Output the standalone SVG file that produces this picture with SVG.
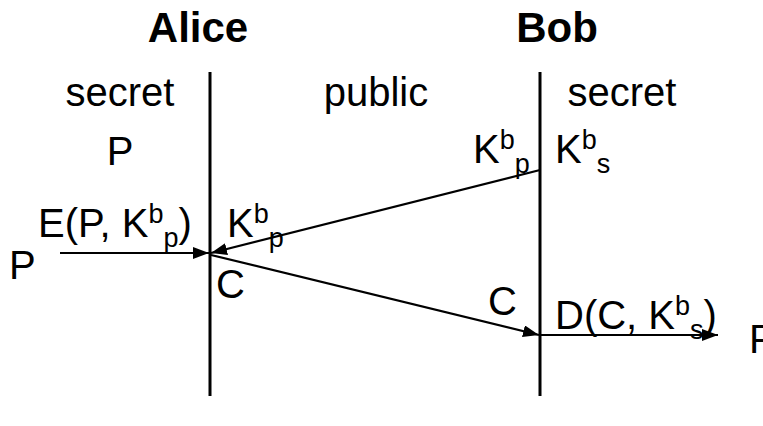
<svg xmlns="http://www.w3.org/2000/svg" width="763" height="426" viewBox="0 0 763 426">
  <style>
    text { font-family: "Liberation Sans", Arial, sans-serif; fill: #000; }
    .title { font-size: 42px; font-weight: bold; text-anchor: middle; }
    .lbl { font-size: 40px; }
    .mid { text-anchor: middle; }
    .sm { font-size: 27px; }
    .life { stroke: #000; stroke-width: 3; fill: none; }
    .msg { stroke: #000; stroke-width: 2.2; fill: none; marker-end: url(#head); }
  </style>
  <defs>
    <marker id="head" viewBox="0 0 10 10" refX="10" refY="5" markerWidth="16" markerHeight="12" markerUnits="userSpaceOnUse" orient="auto" preserveAspectRatio="none">
      <path d="M0,0 L10,5 L0,10 z" fill="#000"/>
    </marker>
  </defs>

  <!-- Alice: party, lifeline and region labels -->
  <g id="alice">
    <text class="title" x="198" y="42">Alice</text>
    <line class="life" x1="210" y1="72" x2="210" y2="396"/>
    <text class="lbl mid" x="120" y="106">secret</text>
    <text class="lbl mid" x="120" y="165">P</text>
  </g>

  <!-- Bob: party, lifeline and region labels -->
  <g id="bob">
    <text class="title" x="557" y="42">Bob</text>
    <line class="life" x1="540" y1="72" x2="540" y2="396"/>
    <text class="lbl mid" x="622" y="106">secret</text>
  </g>

  <g id="public-zone">
    <text class="lbl mid" x="376" y="106">public</text>
  </g>

  <!-- message connectors -->
  <g id="connectors">
    <line class="msg" x1="60" y1="253" x2="209" y2="253"/>
    <line class="msg" x1="540" y1="170" x2="211" y2="253"/>
    <line class="msg" x1="211" y1="255" x2="539" y2="335"/>
    <line class="msg" x1="541" y1="335" x2="718" y2="335"/>
  </g>

  <!-- key and message labels -->
  <g id="labels">
    <text class="lbl" x="473" y="163">K<tspan class="sm" dy="-14">b</tspan><tspan class="sm" dy="24">p</tspan></text>
    <text class="lbl" x="555" y="163">K<tspan class="sm" dy="-14">b</tspan><tspan class="sm" dy="24">s</tspan></text>
    <text class="lbl" x="9" y="279">P</text>
    <text class="lbl" x="38" y="237">E(P, K<tspan class="sm" dy="-14">b</tspan><tspan class="sm" dy="24">p</tspan><tspan dy="-10">)</tspan></text>
    <text class="lbl" x="227" y="237">K<tspan class="sm" dy="-14">b</tspan><tspan class="sm" dy="24">p</tspan></text>
    <text class="lbl" x="216" y="298">C</text>
    <text class="lbl" x="488" y="315">C</text>
    <text class="lbl" x="555" y="329">D(C, K<tspan class="sm" dy="-14">b</tspan><tspan class="sm" dy="24">s</tspan><tspan dy="-10">)</tspan></text>
    <text class="lbl" x="749" y="353">P</text>
  </g>
</svg>
